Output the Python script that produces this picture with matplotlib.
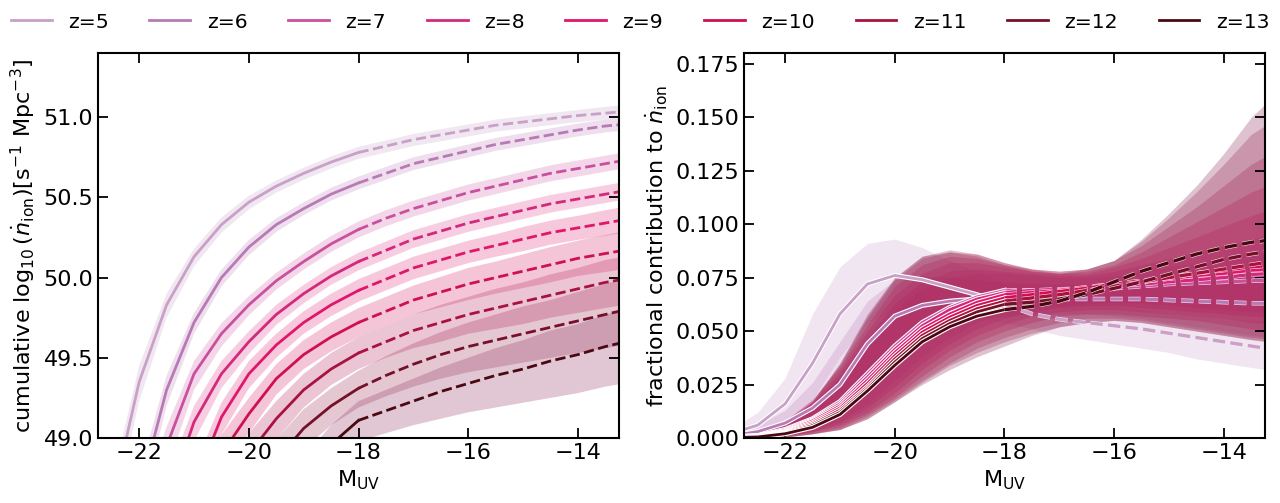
import numpy as np
import matplotlib
matplotlib.use('Agg')
import matplotlib.pyplot as plt
import matplotlib.patheffects as pe

# M_UV grid (bin positions)
m_uv = [-23.0, -22.5, -22.0, -21.5, -21.0, -20.5, -20.0, -19.5, -19.0, -18.5, -18.0,
        -17.5, -17.0, -16.5, -16.0, -15.5, -15.0, -14.5, -14.0, -13.5, -13.0]
m_split = -18.0  # solid brighter than this, dashed fainter

redshifts = [5, 6, 7, 8, 9, 10, 11, 12, 13]
colors = ['#c8a0c8', '#b87ab5', '#c9509f', '#d3287c', '#e0166a',
          '#cf1050', '#a8123f', '#75102a', '#4a0812']
band_colors = ['#c8a0c8', '#c080bc', '#d060a8', '#e03c8a', '#e02474',
               '#d41a5c', '#b21a50', '#98204c', '#882050']

# left panel: cumulative log10(ndot_ion)
cum_mid = [
    [47.9, 48.6, 49.35, 49.83, 50.13, 50.33, 50.47, 50.57, 50.65, 50.72, 50.78, 50.82, 50.86, 50.89, 50.92, 50.95, 50.97, 50.99, 51.01, 51.025, 51.04],
    [47.3, 48.0, 48.65, 49.3, 49.72, 50.0, 50.19, 50.33, 50.43, 50.52, 50.59, 50.65, 50.71, 50.75, 50.79, 50.83, 50.86, 50.89, 50.92, 50.945, 50.96],
    [46.9, 47.7, 48.4, 48.95, 49.4, 49.65, 49.83, 49.98, 50.1, 50.21, 50.30, 50.37, 50.43, 50.48, 50.53, 50.57, 50.61, 50.65, 50.68, 50.71, 50.74],
    [46.5, 47.3, 48.0, 48.6, 49.1, 49.4, 49.6, 49.77, 49.9, 50.01, 50.10, 50.17, 50.24, 50.29, 50.34, 50.38, 50.42, 50.46, 50.49, 50.52, 50.55],
    [46.0, 46.8, 47.5, 48.15, 48.7, 49.13, 49.4, 49.58, 49.72, 49.83, 49.92, 49.99, 50.06, 50.11, 50.16, 50.2, 50.24, 50.28, 50.31, 50.34, 50.37],
    [45.5, 46.3, 47.0, 47.7, 48.3, 48.9, 49.15, 49.37, 49.52, 49.63, 49.72, 49.79, 49.86, 49.91, 49.96, 50.0, 50.04, 50.08, 50.12, 50.15, 50.18],
    [45.0, 45.8, 46.5, 47.2, 47.8, 48.4, 48.9, 49.12, 49.3, 49.43, 49.53, 49.6, 49.67, 49.72, 49.77, 49.81, 49.85, 49.89, 49.93, 49.97, 50.0],
    [44.5, 45.3, 46.0, 46.7, 47.3, 47.9, 48.5, 48.86, 49.06, 49.2, 49.31, 49.39, 49.46, 49.52, 49.57, 49.61, 49.65, 49.69, 49.73, 49.77, 49.81],
    [43.5, 44.3, 45.0, 45.8, 46.6, 47.4, 48.0, 48.45, 48.75, 48.96, 49.11, 49.17, 49.23, 49.29, 49.34, 49.39, 49.43, 49.48, 49.52, 49.57, 49.61],
]
cum_dlo = [
    [0.2, 0.15, 0.12, 0.08, 0.06, 0.05, 0.045, 0.04, 0.04, 0.04, 0.04, 0.04, 0.04, 0.04, 0.04, 0.04, 0.04, 0.04, 0.04, 0.04, 0.04],
    [0.2, 0.2, 0.15, 0.1, 0.07, 0.055, 0.05, 0.045, 0.04, 0.04, 0.04, 0.04, 0.04, 0.04, 0.04, 0.04, 0.04, 0.04, 0.04, 0.04, 0.04],
    [0.2, 0.2, 0.2, 0.15, 0.1, 0.08, 0.065, 0.055, 0.05, 0.05, 0.05, 0.05, 0.05, 0.05, 0.05, 0.05, 0.05, 0.05, 0.05, 0.05, 0.05],
    [0.2, 0.2, 0.2, 0.18, 0.12, 0.09, 0.075, 0.065, 0.06, 0.055, 0.055, 0.055, 0.055, 0.055, 0.055, 0.055, 0.055, 0.055, 0.055, 0.055, 0.055],
    [0.25, 0.25, 0.25, 0.2, 0.15, 0.11, 0.09, 0.08, 0.07, 0.07, 0.07, 0.07, 0.07, 0.07, 0.07, 0.07, 0.075, 0.075, 0.075, 0.08, 0.08],
    [0.3, 0.3, 0.3, 0.25, 0.2, 0.15, 0.12, 0.1, 0.09, 0.09, 0.09, 0.09, 0.09, 0.095, 0.1, 0.1, 0.105, 0.11, 0.11, 0.115, 0.12],
    [0.3, 0.3, 0.3, 0.3, 0.25, 0.2, 0.16, 0.13, 0.11, 0.1, 0.1, 0.1, 0.11, 0.12, 0.12, 0.13, 0.14, 0.14, 0.15, 0.16, 0.16],
    [0.3, 0.3, 0.3, 0.3, 0.3, 0.25, 0.2, 0.15, 0.13, 0.12, 0.12, 0.13, 0.14, 0.15, 0.16, 0.17, 0.18, 0.19, 0.2, 0.21, 0.22],
    [0.3, 0.3, 0.3, 0.3, 0.3, 0.3, 0.25, 0.2, 0.15, 0.13, 0.13, 0.14, 0.15, 0.17, 0.18, 0.2, 0.21, 0.23, 0.24, 0.25, 0.26],
]
cum_dhi = [
    [0.15, 0.12, 0.1, 0.07, 0.05, 0.045, 0.04, 0.035, 0.035, 0.035, 0.035, 0.035, 0.035, 0.035, 0.035, 0.035, 0.035, 0.035, 0.035, 0.04, 0.04],
    [0.15, 0.15, 0.12, 0.09, 0.06, 0.05, 0.045, 0.04, 0.04, 0.04, 0.04, 0.04, 0.04, 0.04, 0.04, 0.04, 0.04, 0.04, 0.04, 0.04, 0.04],
    [0.2, 0.2, 0.15, 0.12, 0.08, 0.065, 0.055, 0.05, 0.05, 0.05, 0.05, 0.05, 0.05, 0.05, 0.05, 0.05, 0.05, 0.05, 0.05, 0.05, 0.05],
    [0.2, 0.2, 0.2, 0.15, 0.1, 0.08, 0.065, 0.06, 0.055, 0.055, 0.055, 0.055, 0.055, 0.055, 0.055, 0.055, 0.055, 0.055, 0.055, 0.055, 0.055],
    [0.25, 0.25, 0.2, 0.16, 0.12, 0.09, 0.08, 0.07, 0.07, 0.07, 0.07, 0.07, 0.07, 0.07, 0.07, 0.07, 0.075, 0.075, 0.075, 0.08, 0.08],
    [0.3, 0.3, 0.25, 0.2, 0.16, 0.12, 0.1, 0.09, 0.09, 0.09, 0.09, 0.09, 0.09, 0.095, 0.1, 0.1, 0.105, 0.11, 0.11, 0.115, 0.12],
    [0.3, 0.3, 0.3, 0.25, 0.2, 0.16, 0.13, 0.11, 0.1, 0.1, 0.1, 0.1, 0.1, 0.11, 0.11, 0.12, 0.12, 0.13, 0.13, 0.14, 0.14],
    [0.3, 0.3, 0.3, 0.3, 0.25, 0.2, 0.16, 0.13, 0.12, 0.11, 0.11, 0.12, 0.13, 0.14, 0.15, 0.16, 0.17, 0.17, 0.18, 0.19, 0.2],
    [0.3, 0.3, 0.3, 0.3, 0.3, 0.25, 0.2, 0.16, 0.13, 0.12, 0.12, 0.13, 0.14, 0.15, 0.16, 0.17, 0.18, 0.19, 0.19, 0.2, 0.2],
]

# right panel: fractional contribution to ndot_ion
frac_mid = [
    [0.002, 0.006, 0.016, 0.035, 0.058, 0.072, 0.076, 0.074, 0.0705, 0.067, 0.0625, 0.058, 0.0555, 0.054, 0.0525, 0.051, 0.049, 0.047, 0.045, 0.043, 0.041],
    [0.001, 0.003, 0.007, 0.014, 0.025, 0.044, 0.057, 0.062, 0.064, 0.065, 0.0655, 0.0655, 0.065, 0.065, 0.065, 0.065, 0.0645, 0.064, 0.0635, 0.063, 0.063],
    [0.0005, 0.001, 0.004, 0.009, 0.017, 0.030, 0.043, 0.054, 0.061, 0.066, 0.069, 0.069, 0.069, 0.0695, 0.070, 0.071, 0.072, 0.0725, 0.073, 0.0735, 0.074],
    [0.0005, 0.001, 0.0035, 0.0085, 0.016, 0.0285, 0.0415, 0.0525, 0.060, 0.065, 0.068, 0.069, 0.0695, 0.070, 0.071, 0.072, 0.073, 0.074, 0.075, 0.0765, 0.077],
    [0.0005, 0.001, 0.003, 0.008, 0.015, 0.027, 0.040, 0.051, 0.058, 0.0635, 0.067, 0.068, 0.069, 0.0705, 0.072, 0.073, 0.0745, 0.076, 0.077, 0.0785, 0.079],
    [0.0003, 0.0008, 0.0028, 0.0072, 0.014, 0.0255, 0.0385, 0.0495, 0.0565, 0.062, 0.0655, 0.067, 0.0685, 0.070, 0.072, 0.0735, 0.075, 0.077, 0.0785, 0.080, 0.081],
    [0.0003, 0.0007, 0.0025, 0.0065, 0.013, 0.024, 0.037, 0.048, 0.055, 0.0605, 0.064, 0.0655, 0.067, 0.069, 0.071, 0.073, 0.075, 0.077, 0.079, 0.081, 0.083],
    [0.0002, 0.0006, 0.0022, 0.0058, 0.012, 0.023, 0.0355, 0.0465, 0.0535, 0.059, 0.0625, 0.0635, 0.065, 0.067, 0.070, 0.073, 0.0765, 0.080, 0.0835, 0.086, 0.088],
    [0.0002, 0.0005, 0.002, 0.005, 0.011, 0.022, 0.034, 0.045, 0.052, 0.057, 0.060, 0.0615, 0.064, 0.068, 0.073, 0.078, 0.082, 0.086, 0.089, 0.0915, 0.093],
]
frac_lo = [
    [0.0, 0.002, 0.007, 0.018, 0.038, 0.054, 0.06, 0.061, 0.059, 0.057, 0.054, 0.051, 0.048, 0.046, 0.044, 0.042, 0.040, 0.037, 0.035, 0.033, 0.031],
    [0.0, 0.001, 0.003, 0.007, 0.013, 0.026, 0.040, 0.048, 0.053, 0.056, 0.057, 0.058, 0.058, 0.058, 0.057, 0.056, 0.054, 0.052, 0.050, 0.048, 0.047],
    [0.0, 0.0, 0.001, 0.004, 0.008, 0.016, 0.027, 0.038, 0.047, 0.054, 0.059, 0.061, 0.062, 0.063, 0.063, 0.063, 0.062, 0.061, 0.06, 0.059, 0.058],
    [0.0, 0.0, 0.001, 0.003, 0.007, 0.014, 0.024, 0.035, 0.044, 0.051, 0.056, 0.059, 0.061, 0.062, 0.062, 0.061, 0.06, 0.059, 0.058, 0.057, 0.056],
    [0.0, 0.0, 0.001, 0.003, 0.006, 0.012, 0.021, 0.032, 0.041, 0.048, 0.053, 0.057, 0.059, 0.060, 0.060, 0.059, 0.058, 0.057, 0.056, 0.054, 0.053],
    [0.0, 0.0, 0.0005, 0.002, 0.005, 0.011, 0.019, 0.029, 0.038, 0.045, 0.05, 0.054, 0.057, 0.058, 0.058, 0.057, 0.056, 0.055, 0.053, 0.051, 0.05],
    [0.0, 0.0, 0.0005, 0.002, 0.004, 0.01, 0.018, 0.027, 0.035, 0.042, 0.047, 0.051, 0.054, 0.056, 0.056, 0.055, 0.053, 0.051, 0.049, 0.047, 0.046],
    [0.0, 0.0, 0.0005, 0.002, 0.004, 0.009, 0.017, 0.026, 0.034, 0.04, 0.045, 0.049, 0.052, 0.054, 0.055, 0.054, 0.052, 0.05, 0.048, 0.046, 0.045],
    [0.0, 0.0, 0.0005, 0.002, 0.004, 0.009, 0.017, 0.025, 0.032, 0.038, 0.043, 0.048, 0.052, 0.054, 0.055, 0.054, 0.052, 0.05, 0.048, 0.046, 0.044],
]
frac_hi = [
    [0.004, 0.012, 0.028, 0.058, 0.08, 0.091, 0.093, 0.089, 0.083, 0.078, 0.072, 0.068, 0.066, 0.064, 0.062, 0.06, 0.058, 0.057, 0.056, 0.055, 0.054],
    [0.002, 0.006, 0.013, 0.026, 0.045, 0.064, 0.074, 0.076, 0.075, 0.074, 0.073, 0.072, 0.072, 0.072, 0.073, 0.074, 0.075, 0.076, 0.077, 0.078, 0.079],
    [0.001, 0.003, 0.008, 0.016, 0.028, 0.045, 0.06, 0.07, 0.075, 0.077, 0.077, 0.076, 0.075, 0.075, 0.076, 0.078, 0.080, 0.082, 0.084, 0.086, 0.088],
    [0.001, 0.003, 0.008, 0.016, 0.029, 0.047, 0.063, 0.073, 0.078, 0.079, 0.078, 0.077, 0.076, 0.076, 0.078, 0.081, 0.084, 0.087, 0.090, 0.093, 0.096],
    [0.001, 0.003, 0.008, 0.017, 0.031, 0.05, 0.067, 0.077, 0.082, 0.082, 0.080, 0.078, 0.077, 0.077, 0.08, 0.084, 0.089, 0.094, 0.099, 0.104, 0.108],
    [0.001, 0.003, 0.008, 0.018, 0.033, 0.053, 0.071, 0.081, 0.085, 0.084, 0.081, 0.079, 0.077, 0.078, 0.081, 0.087, 0.094, 0.101, 0.108, 0.115, 0.12],
    [0.001, 0.003, 0.008, 0.018, 0.034, 0.056, 0.074, 0.084, 0.087, 0.086, 0.082, 0.079, 0.078, 0.079, 0.083, 0.09, 0.099, 0.108, 0.118, 0.128, 0.135],
    [0.001, 0.003, 0.007, 0.017, 0.035, 0.057, 0.075, 0.085, 0.088, 0.086, 0.082, 0.079, 0.078, 0.079, 0.083, 0.092, 0.103, 0.115, 0.128, 0.142, 0.15],
    [0.001, 0.003, 0.007, 0.017, 0.035, 0.058, 0.075, 0.085, 0.087, 0.085, 0.081, 0.078, 0.077, 0.079, 0.083, 0.093, 0.105, 0.118, 0.133, 0.15, 0.162],
]

plt.rcParams['font.family'] = 'DejaVu Sans'
plt.rcParams['font.size'] = 16

fig = plt.figure(figsize=(12.8, 5.03), dpi=100)
ax1 = fig.add_axes([0.0766, 0.1292, 0.407, 0.7654])
ax2 = fig.add_axes([0.58125, 0.1292, 0.407, 0.7654])

x = np.array(m_uv)
bright = x <= m_split
faint = x >= m_split

# left panel
for i, z in enumerate(redshifts):
    y = np.array(cum_mid[i])
    ax1.fill_between(x, y - np.array(cum_dlo[i]), y + np.array(cum_dhi[i]),
                     color=band_colors[i], alpha=0.25, lw=0)
handles = []
for i, z in enumerate(redshifts):
    y = np.array(cum_mid[i])
    l, = ax1.plot(x[bright], y[bright], color=colors[i], lw=2, label='z=%d' % z)
    ax1.plot(x[faint], y[faint], color=colors[i], lw=2, ls='--')
    handles.append(l)

# right panel
for i, z in enumerate(redshifts):
    ax2.fill_between(x, frac_lo[i], frac_hi[i], color=band_colors[i], alpha=0.27, lw=0)
stroke = [pe.withStroke(linewidth=3.6, foreground='white')]
thin_stroke = [pe.withStroke(linewidth=3.2, foreground='#fbe8f0')]
for i, z in enumerate(redshifts):
    y = np.array(frac_mid[i])
    ax2.plot(x[bright], y[bright], color=colors[i], lw=2, path_effects=stroke)
    ax2.plot(x[faint], y[faint], color=colors[i], lw=2.4, ls='--', path_effects=thin_stroke)

ax1.set_xlim(-22.75, -13.25)
ax1.set_ylim(49.0, 51.4)
ax1.set_yticks([49.0, 49.5, 50.0, 50.5, 51.0])
ax1.set_ylabel(r'cumulative $\log_{10}(\dot{n}_{\rm ion})[{\rm s}^{-1}\ {\rm Mpc}^{-3}]$')

ax2.set_xlim(-22.75, -13.25)
ax2.set_ylim(0, 0.18)
ax2.set_yticks([0.0, 0.025, 0.05, 0.075, 0.1, 0.125, 0.15, 0.175])
ax2.yaxis.set_major_formatter(matplotlib.ticker.FormatStrFormatter('%.3f'))
ax2.set_ylabel(r'fractional contribution to $\dot{n}_{\rm ion}$')

for ax in (ax1, ax2):
    ax.set_xticks([-22, -20, -18, -16, -14])
    ax.set_xlabel(r'$\rm M_{UV}$')
    ax.tick_params(direction='in', top=True, right=True, length=7, width=1.3, labelsize=16)
    for s in ax.spines.values():
        s.set_linewidth(1.5)

fig.legend(handles=handles, loc='center', bbox_to_anchor=(0.5, 0.956), ncol=9,
           frameon=False, fontsize=14.7, handlelength=2.0, columnspacing=2.0)

fig.savefig('out.png', dpi=100)
